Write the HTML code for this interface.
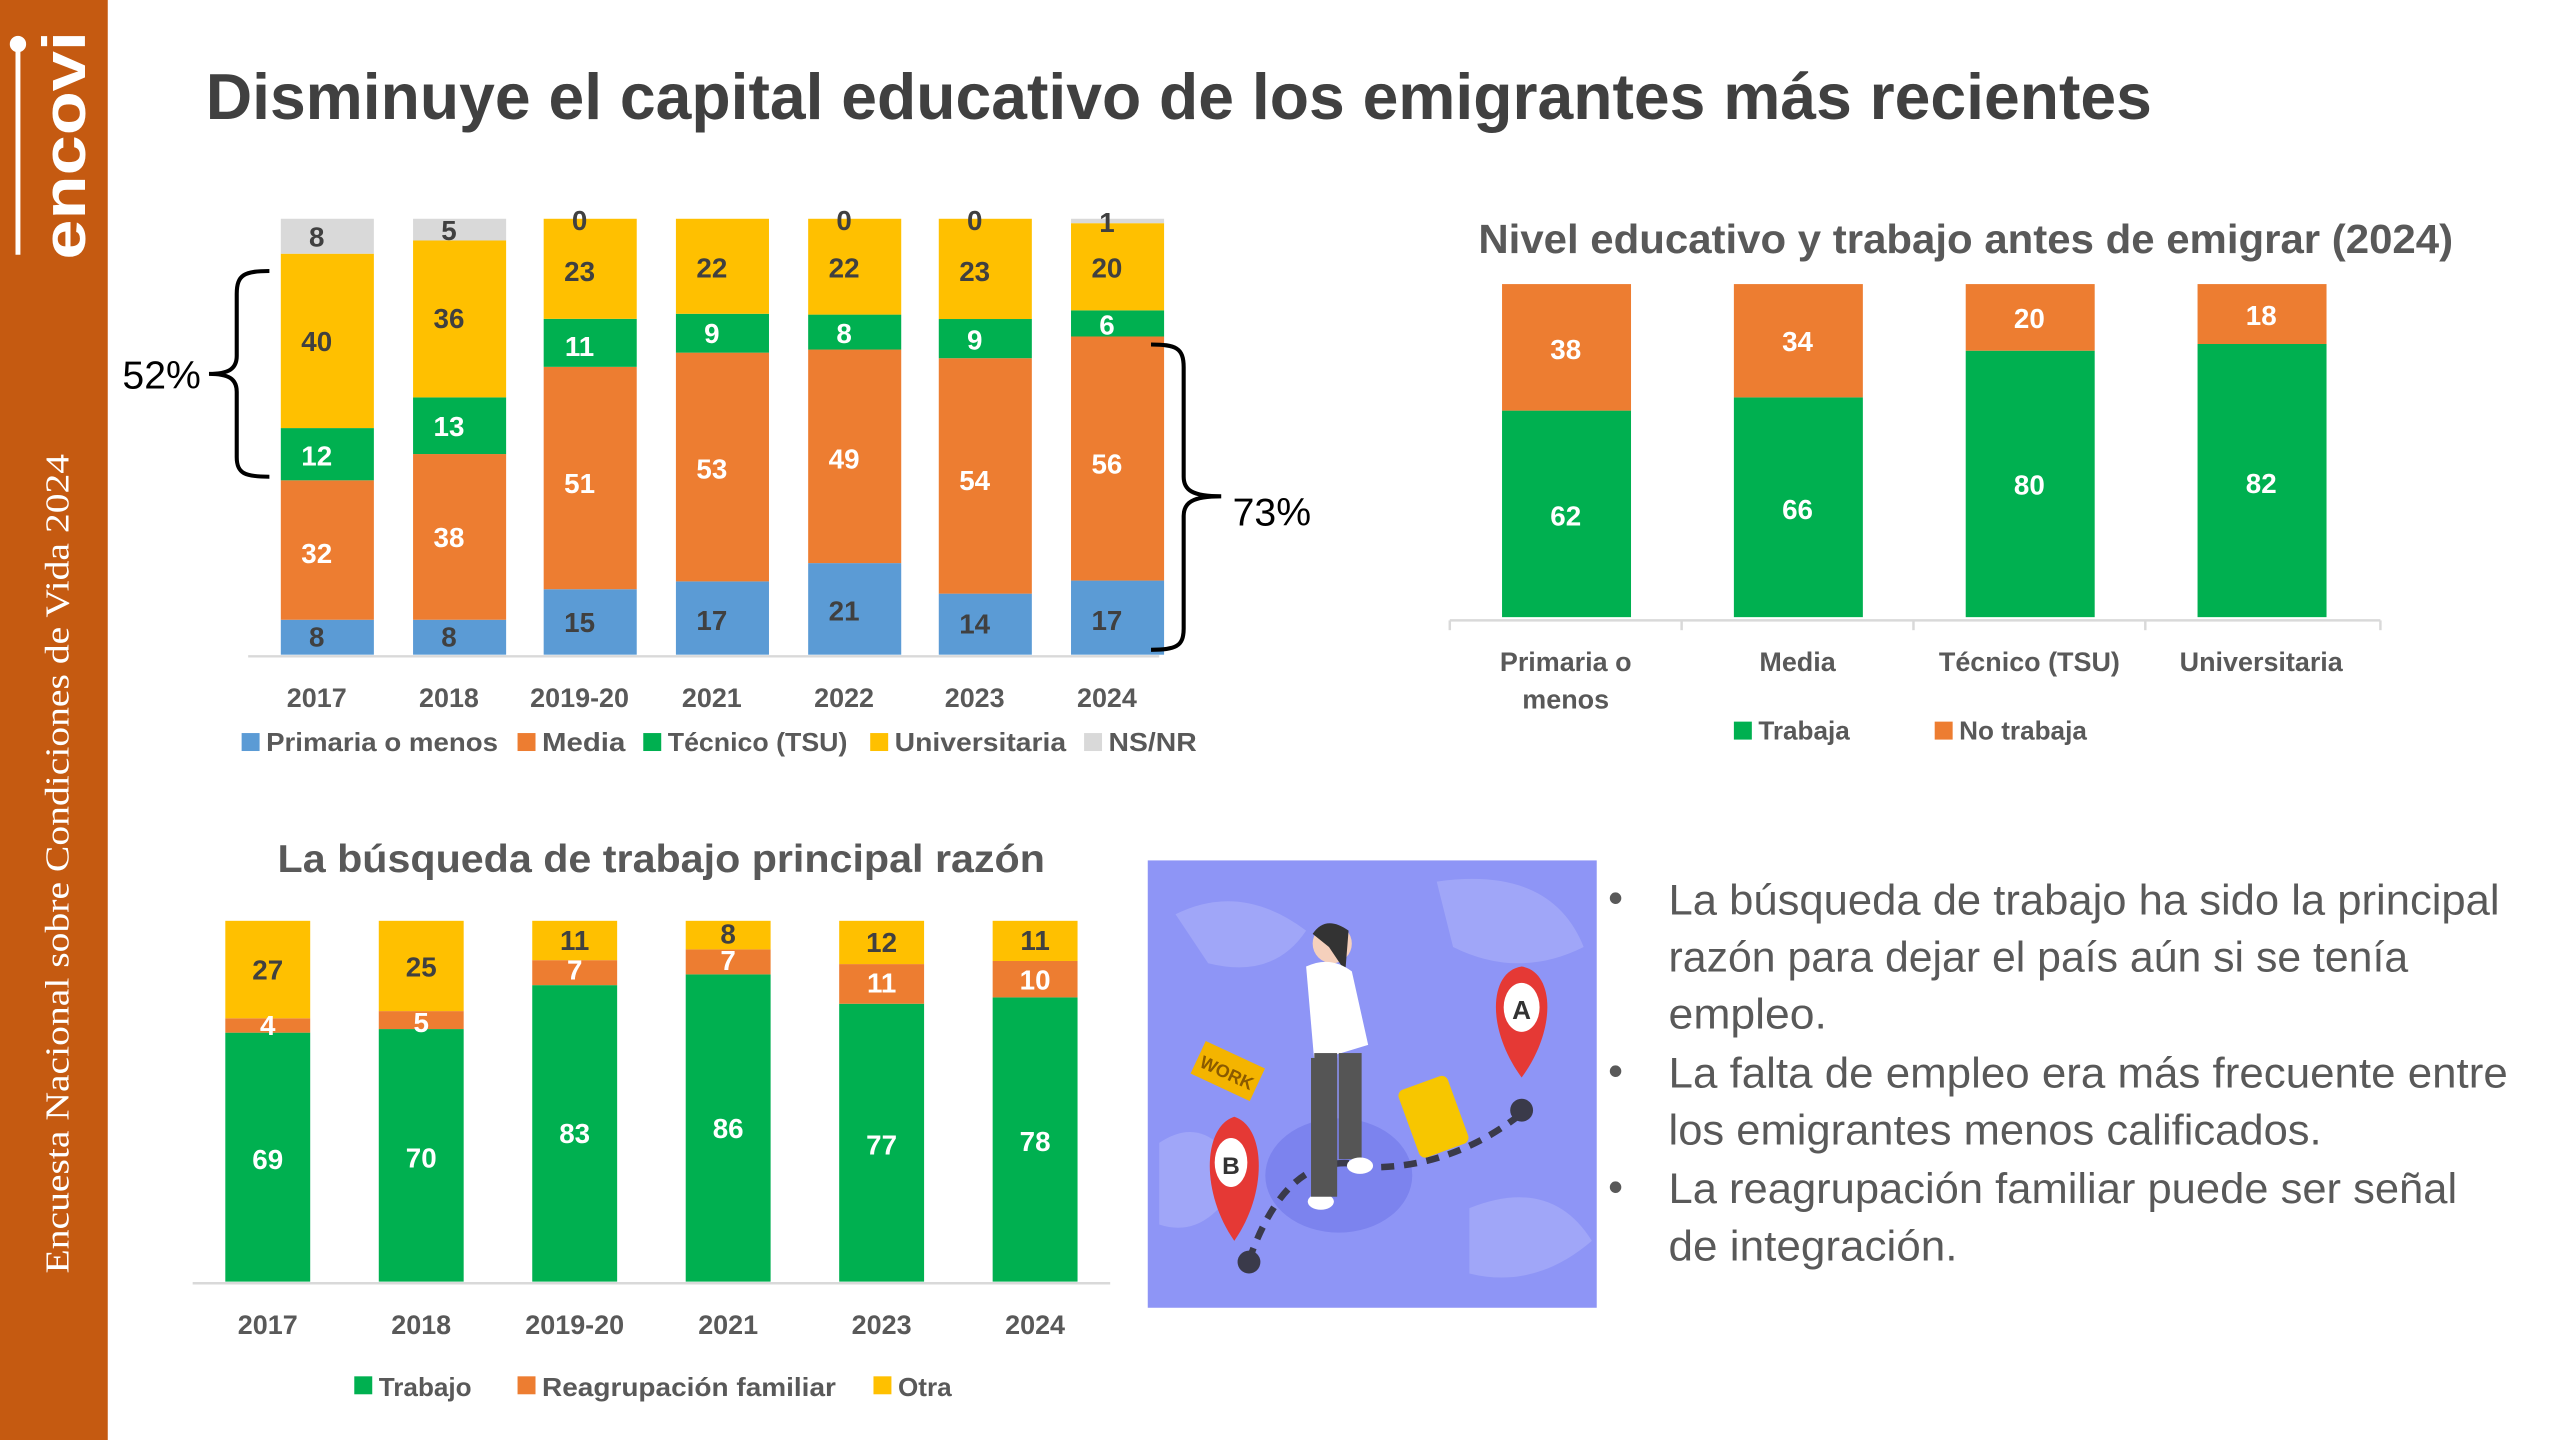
<!DOCTYPE html>
<html><head><meta charset="utf-8"><style>
html,body{margin:0;padding:0;background:#fff;}
svg{display:block;}
text{font-family:"Liberation Sans",sans-serif;}
</style></head><body>
<svg width="2560" height="1440" viewBox="0 0 1568 882" xmlns="http://www.w3.org/2000/svg">
<rect x="0" y="0" width="1568" height="882" fill="#fff"/>
<!-- sidebar -->
<rect x="0" y="0" width="66" height="882" fill="#C55A11"/>
<line x1="11" y1="28" x2="11" y2="156" stroke="#fff" stroke-width="3"/>
<circle cx="11" cy="27" r="5" fill="#fff"/>
<text transform="translate(52,159) rotate(-90)" font-size="37" font-weight="bold" fill="#fff" textLength="140" lengthAdjust="spacingAndGlyphs">encovi</text>
<text transform="translate(42,780) rotate(-90)" font-family="Liberation Serif,serif" style="font-family:'Liberation Serif',serif" font-size="21" fill="#fff" textLength="502" lengthAdjust="spacingAndGlyphs">Encuesta Nacional sobre Condiciones de Vida 2024</text>

<!-- title -->
<text x="126" y="73" font-size="40" font-weight="bold" fill="#404040" textLength="1192" lengthAdjust="spacingAndGlyphs">Disminuye el capital educativo de los emigrantes más recientes</text>

<!-- CHART 1 -->
<g>
<line x1="152" y1="402" x2="710" y2="402" stroke="#D9D9D9" stroke-width="1.5"/>
<!-- 2017 -->
<rect x="172" y="379.6" width="57" height="21.4" fill="#5B9BD5"/>
<rect x="172" y="294.2" width="57" height="85.4" fill="#ED7D31"/>
<rect x="172" y="262.2" width="57" height="32" fill="#00B050"/>
<rect x="172" y="155.4" width="57" height="106.8" fill="#FFC000"/>
<rect x="172" y="134" width="57" height="21.4" fill="#D9D9D9"/>
<!-- 2018 -->
<rect x="253" y="379.6" width="57" height="21.4" fill="#5B9BD5"/>
<rect x="253" y="278.1" width="57" height="101.5" fill="#ED7D31"/>
<rect x="253" y="243.4" width="57" height="34.7" fill="#00B050"/>
<rect x="253" y="147.3" width="57" height="96.1" fill="#FFC000"/>
<rect x="253" y="134" width="57" height="13.3" fill="#D9D9D9"/>
<!-- 2019-20 -->
<rect x="333" y="360.9" width="57" height="40.1" fill="#5B9BD5"/>
<rect x="333" y="224.7" width="57" height="136.2" fill="#ED7D31"/>
<rect x="333" y="195.3" width="57" height="29.4" fill="#00B050"/>
<rect x="333" y="134" width="57" height="61.3" fill="#FFC000"/>
<!-- 2021 -->
<rect x="414" y="356.1" width="57" height="44.9" fill="#5B9BD5"/>
<rect x="414" y="216" width="57" height="140.1" fill="#ED7D31"/>
<rect x="414" y="192.2" width="57" height="23.8" fill="#00B050"/>
<rect x="414" y="134" width="57" height="58.2" fill="#FFC000"/>
<!-- 2022 -->
<rect x="495" y="344.9" width="57" height="56.1" fill="#5B9BD5"/>
<rect x="495" y="214.1" width="57" height="130.8" fill="#ED7D31"/>
<rect x="495" y="192.7" width="57" height="21.4" fill="#00B050"/>
<rect x="495" y="134" width="57" height="58.7" fill="#FFC000"/>
<!-- 2023 -->
<rect x="575" y="363.6" width="57" height="37.4" fill="#5B9BD5"/>
<rect x="575" y="219.4" width="57" height="144.2" fill="#ED7D31"/>
<rect x="575" y="195.4" width="57" height="24" fill="#00B050"/>
<rect x="575" y="134" width="57" height="61.4" fill="#FFC000"/>
<!-- 2024 -->
<rect x="656" y="355.6" width="57" height="45.4" fill="#5B9BD5"/>
<rect x="656" y="206.1" width="57" height="149.5" fill="#ED7D31"/>
<rect x="656" y="190.1" width="57" height="16" fill="#00B050"/>
<rect x="656" y="136.7" width="57" height="53.4" fill="#FFC000"/>
<rect x="656" y="134" width="57" height="2.7" fill="#D9D9D9"/>

<g font-size="17" font-weight="bold" text-anchor="middle" fill="#404040">
<text x="194" y="396">8</text><text x="194" y="151">8</text><text x="194" y="215">40</text>
<text x="275" y="396">8</text><text x="275" y="147">5</text><text x="275" y="201">36</text>
<text x="355" y="387">15</text><text x="355" y="141">0</text><text x="355" y="172">23</text>
<text x="436" y="386">17</text><text x="436" y="170">22</text>
<text x="517" y="380">21</text><text x="517" y="141">0</text><text x="517" y="170">22</text>
<text x="597" y="388">14</text><text x="597" y="141">0</text><text x="597" y="172">23</text>
<text x="678" y="386">17</text><text x="678" y="142">1</text><text x="678" y="170">20</text>
</g>
<g font-size="17" font-weight="bold" text-anchor="middle" fill="#fff">
<text x="194" y="345">32</text><text x="194" y="285">12</text>
<text x="275" y="335">38</text><text x="275" y="267">13</text>
<text x="355" y="302">51</text><text x="355" y="218">11</text>
<text x="436" y="293">53</text><text x="436" y="210">9</text>
<text x="517" y="287">49</text><text x="517" y="210">8</text>
<text x="597" y="300">54</text><text x="597" y="214">9</text>
<text x="678" y="290">56</text><text x="678" y="205">6</text>
</g>
<g font-size="16.5" font-weight="bold" text-anchor="middle" fill="#595959">
<text x="194" y="433">2017</text><text x="275" y="433">2018</text><text x="355" y="433">2019-20</text>
<text x="436" y="433">2021</text><text x="517" y="433">2022</text><text x="597" y="433">2023</text><text x="678" y="433">2024</text>
</g>
<g font-size="16" font-weight="bold" fill="#595959">
<rect x="148" y="449" width="11" height="11" fill="#5B9BD5"/><text x="163" y="460" textLength="142" lengthAdjust="spacingAndGlyphs">Primaria o menos</text>
<rect x="317" y="449" width="11" height="11" fill="#ED7D31"/><text x="332" y="460" textLength="51" lengthAdjust="spacingAndGlyphs">Media</text>
<rect x="394" y="449" width="11" height="11" fill="#00B050"/><text x="409" y="460" textLength="110" lengthAdjust="spacingAndGlyphs">Técnico (TSU)</text>
<rect x="533" y="449" width="11" height="11" fill="#FFC000"/><text x="548" y="460" textLength="105" lengthAdjust="spacingAndGlyphs">Universitaria</text>
<rect x="664" y="449" width="11" height="11" fill="#D9D9D9"/><text x="679" y="460" textLength="54" lengthAdjust="spacingAndGlyphs">NS/NR</text>
</g>
<!-- braces -->
<path d="M165,166 C150,166 145,168 145,180 L145,218 C145,226 140,229 128,229 C140,229 145,232 145,240 L145,280 C145,290 150,292 165,292" fill="none" stroke="#000" stroke-width="2.5"/>
<text x="75" y="238" font-size="24" fill="#000">52%</text>
<path d="M705,211 C720,211 725,213 725,225 L725,292 C725,300 730,304 748,304 C730,304 725,308 725,316 L725,385 C725,396 720,398 705,398" fill="none" stroke="#000" stroke-width="2.5"/>
<text x="755" y="322" font-size="24" fill="#000">73%</text>
</g>

<!-- CHART 2 -->
<g>
<text x="1204" y="155" font-size="25" font-weight="bold" text-anchor="middle" fill="#595959" textLength="597" lengthAdjust="spacingAndGlyphs">Nivel educativo y trabajo antes de emigrar (2024)</text>
<rect x="920" y="251.5" width="79" height="126.5" fill="#00B050"/><rect x="920" y="174" width="79" height="77.5" fill="#ED7D31"/>
<rect x="1062" y="243.4" width="79" height="134.6" fill="#00B050"/><rect x="1062" y="174" width="79" height="69.4" fill="#ED7D31"/>
<rect x="1204" y="214.8" width="79" height="163.2" fill="#00B050"/><rect x="1204" y="174" width="79" height="40.8" fill="#ED7D31"/>
<rect x="1346" y="210.7" width="79" height="167.3" fill="#00B050"/><rect x="1346" y="174" width="79" height="36.7" fill="#ED7D31"/>
<line x1="888" y1="380" x2="1458" y2="380" stroke="#D9D9D9" stroke-width="1.5"/>
<g stroke="#D9D9D9" stroke-width="1.5"><line x1="888" y1="380" x2="888" y2="386"/><line x1="1030" y1="380" x2="1030" y2="386"/><line x1="1172" y1="380" x2="1172" y2="386"/><line x1="1314" y1="380" x2="1314" y2="386"/><line x1="1458" y1="380" x2="1458" y2="386"/></g>
<g font-size="17" font-weight="bold" text-anchor="middle" fill="#fff">
<text x="959" y="322">62</text><text x="959" y="220">38</text>
<text x="1101" y="318">66</text><text x="1101" y="215">34</text>
<text x="1243" y="303">80</text><text x="1243" y="201">20</text>
<text x="1385" y="302">82</text><text x="1385" y="199">18</text>
</g>
<g font-size="16.5" font-weight="bold" text-anchor="middle" fill="#595959">
<text x="959" y="411">Primaria o</text><text x="959" y="434">menos</text>
<text x="1101" y="411">Media</text><text x="1243" y="411">Técnico (TSU)</text><text x="1385" y="411">Universitaria</text>
</g>
<g font-size="16" font-weight="bold" fill="#595959">
<rect x="1062" y="442" width="11" height="11" fill="#00B050"/><text x="1077" y="453">Trabaja</text>
<rect x="1185" y="442" width="11" height="11" fill="#ED7D31"/><text x="1200" y="453">No trabaja</text>
</g>
</g>

<!-- CHART 3 -->
<g>
<text x="405" y="534" font-size="24" font-weight="bold" text-anchor="middle" fill="#595959" textLength="470" lengthAdjust="spacingAndGlyphs">La búsqueda de trabajo principal razón</text>
<rect x="138" y="632.5" width="52" height="152.5" fill="#00B050"/><rect x="138" y="623.7" width="52" height="8.8" fill="#ED7D31"/><rect x="138" y="564" width="52" height="59.7" fill="#FFC000"/>
<rect x="232" y="630.3" width="52" height="154.7" fill="#00B050"/><rect x="232" y="619.3" width="52" height="11" fill="#ED7D31"/><rect x="232" y="564" width="52" height="55.3" fill="#FFC000"/>
<rect x="326" y="603.4" width="52" height="181.6" fill="#00B050"/><rect x="326" y="588.1" width="52" height="15.3" fill="#ED7D31"/><rect x="326" y="564" width="52" height="24.1" fill="#FFC000"/>
<rect x="420" y="596.8" width="52" height="188.2" fill="#00B050"/><rect x="420" y="581.5" width="52" height="15.3" fill="#ED7D31"/><rect x="420" y="564" width="52" height="17.5" fill="#FFC000"/>
<rect x="514" y="614.8" width="52" height="170.2" fill="#00B050"/><rect x="514" y="590.5" width="52" height="24.3" fill="#ED7D31"/><rect x="514" y="564" width="52" height="26.5" fill="#FFC000"/>
<rect x="608" y="610.9" width="52" height="174.1" fill="#00B050"/><rect x="608" y="588.6" width="52" height="22.3" fill="#ED7D31"/><rect x="608" y="564" width="52" height="24.6" fill="#FFC000"/>
<line x1="118" y1="786" x2="680" y2="786" stroke="#D9D9D9" stroke-width="1.5"/>
<g font-size="17" font-weight="bold" text-anchor="middle" fill="#fff">
<text x="164" y="716">69</text><text x="164" y="634">4</text>
<text x="258" y="715">70</text><text x="258" y="632">5</text>
<text x="352" y="700">83</text><text x="352" y="600">7</text>
<text x="446" y="697">86</text><text x="446" y="594">7</text>
<text x="540" y="707">77</text><text x="540" y="608">11</text>
<text x="634" y="705">78</text><text x="634" y="606">10</text>
</g>
<g font-size="17" font-weight="bold" text-anchor="middle" fill="#404040">
<text x="164" y="600">27</text><text x="258" y="598">25</text><text x="352" y="582">11</text>
<text x="446" y="578">8</text><text x="540" y="583">12</text><text x="634" y="582">11</text>
</g>
<g font-size="16.5" font-weight="bold" text-anchor="middle" fill="#595959">
<text x="164" y="817">2017</text><text x="258" y="817">2018</text><text x="352" y="817">2019-20</text>
<text x="446" y="817">2021</text><text x="540" y="817">2023</text><text x="634" y="817">2024</text>
</g>
<g font-size="16" font-weight="bold" fill="#595959">
<rect x="217" y="843" width="11" height="11" fill="#00B050"/><text x="232" y="855">Trabajo</text>
<rect x="317" y="843" width="11" height="11" fill="#ED7D31"/><text x="332" y="855" textLength="180" lengthAdjust="spacingAndGlyphs">Reagrupación familiar</text>
<rect x="535" y="843" width="11" height="11" fill="#FFC000"/><text x="550" y="855">Otra</text>
</g>
</g>

<!-- illustration -->
<g>
<rect x="703" y="527" width="275" height="274" fill="#8E95F6"/>
<path d="M720,560 Q760,540 800,570 Q780,600 740,590 Z" fill="#A0A6F8"/>
<path d="M880,540 Q950,530 970,580 Q930,600 890,580 Z" fill="#A0A6F8"/>
<path d="M710,700 Q740,680 760,720 Q740,760 710,750 Z" fill="#A0A6F8"/>
<path d="M900,740 Q950,720 975,760 Q940,790 900,780 Z" fill="#A0A6F8"/>
<ellipse cx="820" cy="720" rx="45" ry="35" fill="#7C83EE"/>
<path d="M765,772 Q790,700 840,715 Q890,715 932,682" fill="none" stroke="#3A3A4A" stroke-width="4" stroke-dasharray="8,6"/>
<circle cx="765" cy="773" r="7" fill="#3A3A4A"/>
<circle cx="932" cy="680" r="7" fill="#3A3A4A"/>
<!-- pins -->
<path d="M932,660 C910,630 912,595 932,592 C952,595 954,630 932,660 Z" fill="#E53935"/>
<ellipse cx="932" cy="617" rx="11" ry="15" fill="#fff"/><text x="932" y="624" font-size="16" font-weight="bold" text-anchor="middle" fill="#333">A</text>
<path d="M756,760 C735,730 737,690 756,684 C775,690 777,730 756,760 Z" fill="#E53935"/>
<ellipse cx="754" cy="712" rx="10" ry="15" fill="#fff"/><text x="754" y="719" font-size="15" font-weight="bold" text-anchor="middle" fill="#333">B</text>
<!-- work sign -->
<rect x="732" y="645" width="40" height="22" fill="#F4B400" transform="rotate(25 752 656)"/>
<text x="752" y="661" font-size="11" font-weight="bold" text-anchor="middle" fill="#8a5a00" transform="rotate(25 752 656)">WORK</text>
<!-- person -->
<circle cx="816" cy="578" r="12" fill="#F5D0BC"/>
<path d="M804,572 Q812,560 826,570 L824,595 L814,580 Z" fill="#333"/>
<path d="M800,592 Q815,585 828,595 L838,640 L805,650 Z" fill="#fff"/>
<rect x="805" y="645" width="14" height="70" fill="#555"/>
<rect x="820" y="645" width="14" height="65" fill="#555"/>
<ellipse cx="809" cy="736" rx="8" ry="5" fill="#fff"/>
<ellipse cx="833" cy="714" rx="8" ry="5" fill="#fff"/>
<rect x="803" y="648" width="16" height="85" fill="#555"/>
<rect x="862" y="662" width="32" height="44" rx="4" fill="#F7C600" transform="rotate(-20 878 684)"/>
</g>

<!-- bullets -->
<g font-size="26" fill="#595959">
<text x="985" y="559">•</text><text x="985" y="665">•</text><text x="985" y="736">•</text>
<text x="1022" y="560" textLength="509" lengthAdjust="spacingAndGlyphs">La búsqueda de trabajo ha sido la principal</text>
<text x="1022" y="595" textLength="453" lengthAdjust="spacingAndGlyphs">razón para dejar el país aún si se tenía</text>
<text x="1022" y="630" textLength="97" lengthAdjust="spacingAndGlyphs">empleo.</text>
<text x="1022" y="666" textLength="514" lengthAdjust="spacingAndGlyphs">La falta de empleo era más frecuente entre</text>
<text x="1022" y="701" textLength="400" lengthAdjust="spacingAndGlyphs">los emigrantes menos calificados.</text>
<text x="1022" y="737" textLength="483" lengthAdjust="spacingAndGlyphs">La reagrupación familiar puede ser señal</text>
<text x="1022" y="772" textLength="177" lengthAdjust="spacingAndGlyphs">de integración.</text>
</g>
</svg>
</body></html>
